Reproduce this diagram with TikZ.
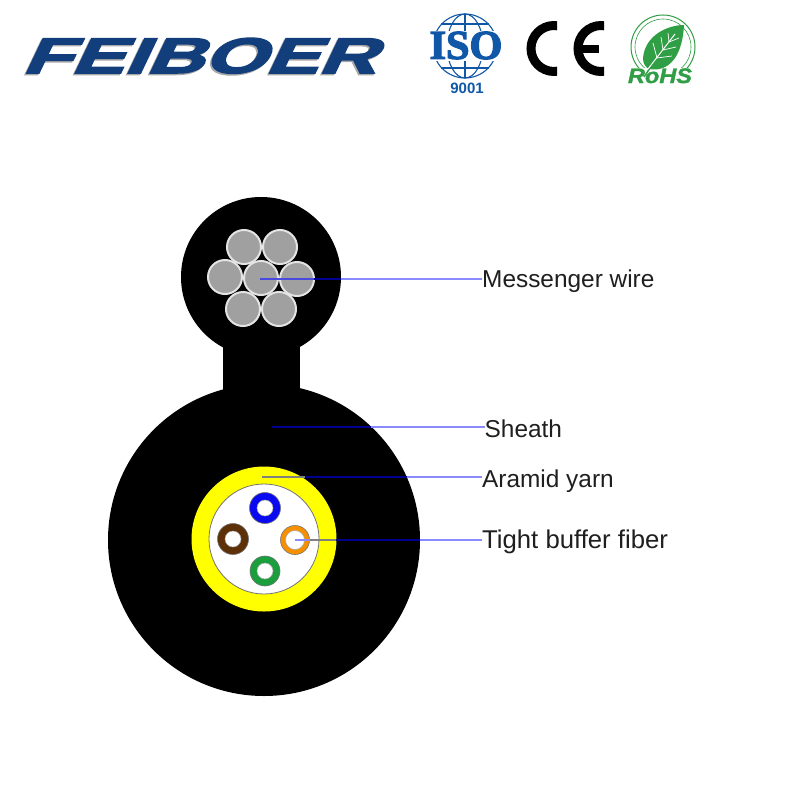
\documentclass[tikz,border=0pt]{standalone}
\usepackage{fontspec}
\setmainfont{Liberation Sans}
\newfontfamily\isofont[BoldFeatures={FakeBold=3}]{Liberation Serif}
\newfontfamily\rohsfont[BoldFeatures={FakeBold=1.5},BoldItalicFeatures={FakeBold=1.5}]{Liberation Sans}
\newfontfamily\logofont[BoldFeatures={FakeBold=3}]{Liberation Sans}
\definecolor{logoblue}{HTML}{123F7C}
\definecolor{logoshadow}{HTML}{A8A8A8}
\definecolor{isoblue}{HTML}{1157A8}
\definecolor{rohsgreen}{HTML}{2F9E44}
\definecolor{wirefill}{HTML}{A0A0A0}
\definecolor{wireedge}{HTML}{E4E4E4}
\definecolor{leadlight}{HTML}{8A8AFF}
\definecolor{leaddark}{HTML}{000090}
\definecolor{leadmid}{HTML}{4A4AE0}
\definecolor{leadgray}{HTML}{808080}
\definecolor{yarn}{HTML}{FFFF00}
\definecolor{tubebrown}{HTML}{5E3008}
\definecolor{tubeorange}{HTML}{F79000}
\definecolor{tubegreen}{HTML}{1B9E3C}
\definecolor{tubeblue}{HTML}{0A0AF0}
\tikzset{
  wire/.style={fill=wirefill,draw=wireedge,line width=2pt},
  label text/.style={inner sep=0pt,anchor=base west,text=black!88,font=\fontsize{24.4}{28}\selectfont},
  leadL/.style={draw=leadlight,line width=1.4pt},
  leadD/.style={draw=leaddark,line width=1.4pt},
  leadM/.style={draw=leadmid,line width=1.4pt},
  leadG/.style={draw=leadgray,line width=1.4pt},
  logo text/.style={inner sep=0pt,anchor=base west,transform shape,font=\fontsize{50}{56}\logofont\bfseries},
  tube/.style={draw=black!55,line width=0.6pt},
  hole/.style={fill=white,draw=black!35,line width=0.5pt},
}
\begin{document}
\begin{tikzpicture}[x=1pt,y=-1pt]
\useasboundingbox (0,0) rectangle (800,800);
\fill[white] (0,0) rectangle (800,800);

% FEIBOER logo
\begin{scope}[shift={(20,74.5)},xscale=1.59,xslant=0.3]
  \node[logo text,text=logoshadow] (logoshade) at (0,0) {FEIBOER};
\end{scope}
\begin{scope}[shift={(21.5,73)},xscale=1.59,xslant=0.3]
  \node[logo text,text=logoblue] (logomain) at (0,0) {FEIBOER};
\end{scope}

% ISO globe
\begin{scope}[draw=isoblue,line width=1.1pt]
  \draw (465,46) circle[radius=32];
  \draw (465,46) ellipse[x radius=18,y radius=32];
  \draw (465,14) -- (465,78);
  \draw (441,24) -- (489,24);
  \draw (436,32) -- (494,32);
  \draw (436,60) -- (494,60);
  \draw (441,68) -- (489,68);
\end{scope}
\fill[white] (425,31) rectangle (505,61);
\node[inner sep=0pt,text=isoblue,font=\fontsize{41}{44}\isofont\bfseries,xscale=1.03] (iso) at (466,45.5) {ISO};
\node[inner sep=0pt,text=isoblue,font=\fontsize{15}{17}\selectfont\bfseries] (isonum) at (467,88) {9001};

% CE mark
\begin{scope}
  \clip (520,15) rectangle (557,82);
  \draw[black,line width=9pt] (554,48.5) circle[radius=23];
\end{scope}
\begin{scope}
  \clip (565,15) rectangle (604,82);
  \draw[black,line width=9pt] (601,48.5) circle[radius=23];
\end{scope}
\fill[black] (576,45) rectangle (599,53);

% RoHS mark
\draw[rohsgreen,line width=1pt] (663,47) circle[radius=32];
\draw[rohsgreen,line width=0.6pt] (663,47) circle[radius=28];
\fill[white] (625,68) rectangle (698,86);
\fill[rohsgreen] (684,25) .. controls (668,25) and (645,35) .. (643,58)
  .. controls (643,63) and (645,67) .. (649,69)
  .. controls (665,72) and (682,62) .. (684,25) -- cycle;
\draw[rohsgreen,line width=1.5pt] (650,68) -- (644,77);
\draw[white,line width=1pt] (648,69) -- (675,34);
\draw[white,line width=0.7pt] (657,58) -- (653,43) (663,50) -- (661,37) (669,42) -- (668,33)
  (657,58) -- (672,56) (663,50) -- (676,47) (669,42) -- (679,38);
\node[inner sep=0pt,anchor=base,text=rohsgreen,font=\fontsize{21}{24}\rohsfont\bfseries\itshape,xscale=1.12] (rohs) at (660,83) {RoHS};

% Cable cross-section
\fill[black] (261,277) circle[radius=80];
\fill[black] (223,340) rectangle (300,420);
\fill[black] (264,540) circle[radius=156];

\draw[wire] (244,247) circle[radius=17];
\draw[wire] (280,247) circle[radius=17];
\draw[wire] (225,277) circle[radius=17];
\draw[wire] (261,278) circle[radius=17];
\draw[wire] (297,279) circle[radius=17];
\draw[wire] (243,309) circle[radius=17];
\draw[wire] (279,309) circle[radius=17];

\fill[yarn] (264,539) circle[radius=72.5];
\draw[fill=white,draw=black!55,line width=0.8pt] (264,539) circle[radius=55];

\draw[tube,fill=tubeblue] (265,508) circle[radius=15.5];
\draw[hole] (265,508) circle[radius=8];
\draw[tube,fill=tubebrown] (233,539) circle[radius=15.5];
\draw[hole] (233,539) circle[radius=8];
\draw[tube,fill=tubeorange] (295,540) circle[radius=14.5];
\draw[hole] (295,540) circle[radius=9.5];
\draw[tube,fill=tubegreen] (265,571) circle[radius=15];
\draw[hole] (265,571) circle[radius=8];

% Labels
\node[label text] (msg) at (482,287) {Messenger wire};
\node[label text] (sheath) at (484.5,437) {Sheath};
\node[label text] (yarnlabel) at (482,487) {Aramid yarn};
\node[label text,font=\fontsize{25.7}{28}\selectfont] (fiber) at (482,548) {Tight buffer fiber};

% Leader coordinates
\coordinate (m0) at (260,279);
\coordinate (m1) at (314,279);
\coordinate (m2) at (341,279);
\coordinate (s0) at (272,427);
\coordinate (s1) at (371,427);
\coordinate (a0) at (262,477);
\coordinate (a1) at (305,477);
\coordinate (a2) at (407,477);
\coordinate (t0) at (295,540);
\coordinate (t1) at (310,540);
\coordinate (t2) at (336,540);
\coordinate (t3) at (420,540);

% Leaders
\draw[leadM] (m0) -- (m1);
\draw[leadD] (m1) -- (m2);
\draw[leadL] (m2) -- (m2 -| msg.west);
\draw[leadD] (s0) -- (s1);
\draw[leadL] (s1) -- (s1 -| sheath.west);
\draw[leadG] (a0) -- (a1);
\draw[leadD] (a1) -- (a2);
\draw[leadL] (a2) -- (a2 -| yarnlabel.west);
\draw[leadL] (t0) -- (t1);
\draw[leadG] (t1) -- (t2);
\draw[leadD] (t2) -- (t3);
\draw[leadL] (t3) -- (t3 -| fiber.west);
\end{tikzpicture}
\end{document}
